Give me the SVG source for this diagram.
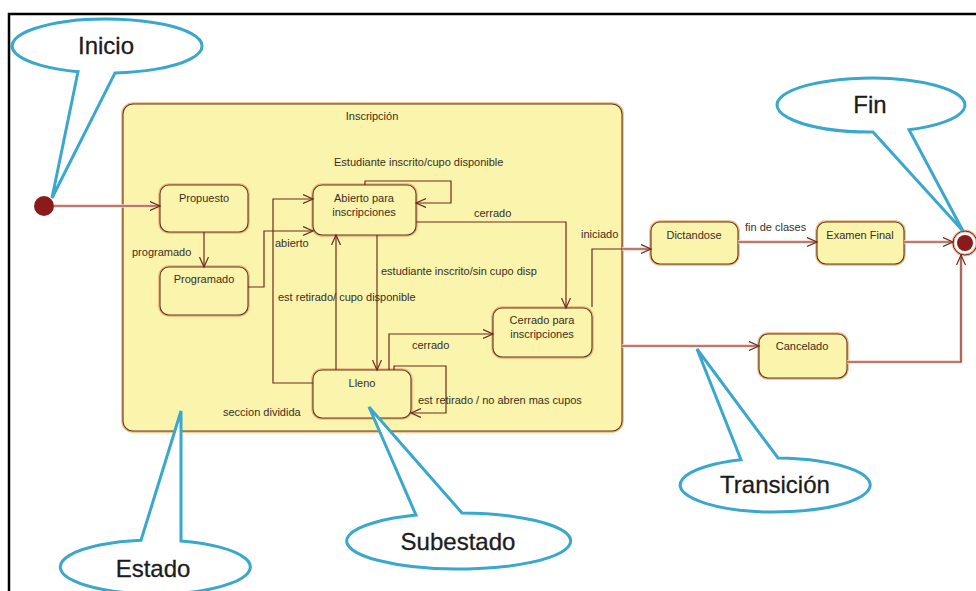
<svg xmlns="http://www.w3.org/2000/svg" width="976" height="591" viewBox="0 0 976 591">
<style>
.frame{stroke:#000;stroke-width:2.5;fill:none}
.state{fill:#faf4ac;stroke:#5a3a22;stroke-width:1.1}
.glow{fill:none;stroke:#f3b27a;stroke-width:3.5}
.edge{fill:none;stroke:#6e2a1c;stroke-width:1.2}
.halo{fill:none;stroke:#f8d2c8;stroke-width:3.5}
.lbl{font-family:"Liberation Sans",Arial,sans-serif;font-size:11px;fill:#3a2e1e}
.mid{text-anchor:middle}
.call{fill:#fff;stroke:#39a8cc;stroke-width:3;stroke-linejoin:miter}
.ct{font-family:"Liberation Sans",Arial,sans-serif;font-size:24px;fill:#1c1c1c;text-anchor:middle;stroke:#1c1c1c;stroke-width:0.3}
</style>
<defs>
<marker id="arr" markerUnits="userSpaceOnUse" markerWidth="12" markerHeight="12" refX="10" refY="5" orient="auto">
<path d="M0,0.5 L10,5 L0,9.5" fill="none" stroke="#6e2a1c" stroke-width="1.2"/>
</marker>
</defs>
<rect width="976" height="591" fill="#fff"/>
<path class="frame" d="M9,591 L9,14 L976,14"/>

<g id="inscripcion">
<rect class="glow" x="123" y="104" width="499" height="327" rx="10"/>
<rect class="state" x="123" y="104" width="499" height="327" rx="10"/>
<text class="lbl mid" x="372" y="120">Inscripción</text>
</g>

<g id="inicio-state"><circle cx="44" cy="206" r="10" fill="#8b1a1a"/></g>

<g id="propuesto">
<rect class="glow" x="160" y="185" width="88" height="47" rx="9"/>
<rect class="state" x="160" y="185" width="88" height="47" rx="9"/>
<text class="lbl mid" x="204" y="202">Propuesto</text>
</g>
<g id="programado">
<rect class="glow" x="160" y="267" width="88" height="48" rx="9"/>
<rect class="state" x="160" y="267" width="88" height="48" rx="9"/>
<text class="lbl mid" x="204" y="283">Programado</text>
</g>
<g id="abierto">
<rect class="glow" x="313" y="185" width="103" height="50" rx="9"/>
<rect class="state" x="313" y="185" width="103" height="50" rx="9"/>
<text class="lbl mid" x="364" y="202">Abierto para</text>
<text class="lbl mid" x="364" y="216">inscripciones</text>
</g>
<g id="lleno">
<rect class="glow" x="313" y="370" width="98" height="48" rx="9"/>
<rect class="state" x="313" y="370" width="98" height="48" rx="9"/>
<text class="lbl mid" x="362" y="387">Lleno</text>
</g>
<g id="cerrado">
<rect class="glow" x="493" y="308" width="99" height="49" rx="9"/>
<rect class="state" x="493" y="308" width="99" height="49" rx="9"/>
<text class="lbl mid" x="542" y="324">Cerrado para</text>
<text class="lbl mid" x="542" y="338">inscripciones</text>
</g>
<g id="dictandose">
<rect class="glow" x="651" y="222" width="87" height="42" rx="9"/>
<rect class="state" x="651" y="222" width="87" height="42" rx="9"/>
<text class="lbl mid" x="694" y="239">Dictandose</text>
</g>
<g id="examen">
<rect class="glow" x="817" y="222" width="87" height="42" rx="9"/>
<rect class="state" x="817" y="222" width="87" height="42" rx="9"/>
<text class="lbl mid" x="860" y="239">Examen Final</text>
</g>
<g id="cancelado">
<rect class="glow" x="759" y="334" width="88" height="44" rx="9"/>
<rect class="state" x="759" y="334" width="88" height="44" rx="9"/>
<text class="lbl mid" x="802" y="350">Cancelado</text>
</g>
<g id="fin-state">
<circle cx="965" cy="243" r="12" fill="#fff" stroke="#f3b8a8" stroke-width="3"/>
<circle cx="965" cy="243" r="12" fill="none" stroke="#5a2a1a" stroke-width="1"/>
<circle cx="965" cy="243" r="8" fill="#8b1a1a"/>
</g>

<g id="connectors">
<path class="halo" d="M54,206 L158,206 M622,346 L757,346 M738,242 L815,242 M904,242 L951,242 M847,362 L961,362 L961,257 M622,249 L649,249"/>
<path class="edge" marker-end="url(#arr)" d="M54,206 L160,206"/>
<path class="edge" marker-end="url(#arr)" d="M204,232 L204,267"/>
<path class="edge" marker-end="url(#arr)" d="M248,287 L264,287 L264,231 L313,231"/>
<path class="edge" marker-end="url(#arr)" d="M313,383 L273,383 L273,199 L313,199"/>
<path class="edge" marker-end="url(#arr)" d="M365,185 L365,181 L451,181 L451,203 L416,203"/>
<path class="edge" marker-end="url(#arr)" d="M416,222 L566,222 L566,308"/>
<path class="edge" marker-end="url(#arr)" d="M377,235 L377,370"/>
<path class="edge" marker-end="url(#arr)" d="M336,370 L336,235"/>
<path class="edge" marker-end="url(#arr)" d="M389,370 L389,334 L493,334"/>
<path class="edge" marker-end="url(#arr)" d="M394,370 L394,366 L446,366 L446,413 L411,413"/>
<path class="edge" marker-end="url(#arr)" d="M592,307 L592,249 L651,249"/>
<path class="edge" marker-end="url(#arr)" d="M738,242 L817,242"/>
<path class="edge" marker-end="url(#arr)" d="M904,242 L953,242"/>
<path class="edge" marker-end="url(#arr)" d="M622,346 L759,346"/>
<path class="edge" marker-end="url(#arr)" d="M847,362 L961,362 L961,255"/>
<text class="lbl" x="334" y="166">Estudiante inscrito/cupo disponible</text>
<text class="lbl" x="132" y="256">programado</text>
<text class="lbl" x="275" y="247">abierto</text>
<text class="lbl" x="474" y="217">cerrado</text>
<text class="lbl" x="581" y="238">iniciado</text>
<text class="lbl" x="381" y="275">estudiante inscrito/sin cupo disp</text>
<text class="lbl" x="278" y="301">est retirado/ cupo disponible</text>
<text class="lbl" x="412" y="349">cerrado</text>
<text class="lbl" x="418" y="404">est retirado / no abren mas cupos</text>
<text class="lbl" x="223" y="416">seccion dividida</text>
<text class="lbl" x="745" y="231">fin de clases</text>
</g>

<g id="callout-inicio">
<path class="call" d="M115,72.9 A95,27 0 1 0 78,71.7 L52,198 Z"/>
<text class="ct" x="106" y="54">Inicio</text>
</g>
<g id="callout-fin">
<path class="call" d="M909,129.7 A94,27 0 1 0 873,132 L963,231 Z"/>
<text class="ct" x="870" y="113">Fin</text>
</g>
<g id="callout-estado">
<path class="call" d="M141,540.3 A95,27 0 1 0 181,541 L181,411 Z"/>
<text class="ct" x="153" y="577">Estado</text>
</g>
<g id="callout-subestado">
<path class="call" d="M416,515.1 A112,28 0 1 0 462,513 L369,407 Z"/>
<text class="ct" x="458" y="550">Subestado</text>
</g>
<g id="callout-transicion">
<path class="call" d="M741,459.8 A95,27 0 1 0 778,458 L697,349 Z"/>
<text class="ct" x="775" y="493">Transición</text>
</g>
</svg>
